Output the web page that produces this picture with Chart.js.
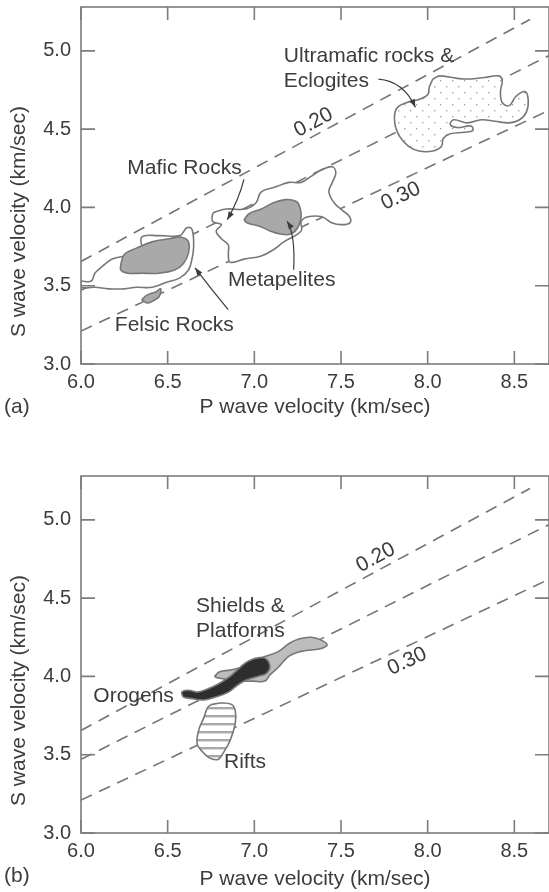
<!DOCTYPE html>
<html>
<head>
<meta charset="utf-8">
<script src="https://cdn.jsdelivr.net/npm/chart.js@4.4.1/dist/chart.umd.min.js"></script>
<style>
  html, body { margin: 0; padding: 0; background: #fff; }
  .panel { position: relative; width: 549px; }
  #panel-a { height: 440px; }
  #panel-b { height: 452px; }
</style>
</head>
<body>
<div class="panel" id="panel-a"><canvas id="chart-a"></canvas></div>
<div class="panel" id="panel-b"><canvas id="chart-b"></canvas></div>
<script>
/* ---------- axes ---------- */
const xTicks = [6.0, 6.5, 7.0, 7.5, 8.0, 8.5];
const yTicks = [3.0, 3.5, 4.0, 4.5, 5.0];
const xRange = [6.0, 8.7];
const yRange = [3.0, 5.28];

/* ---------- Poisson's ratio lines, [Vp, Vs] end points ---------- */
const line020 = [[6.0, 3.655], [8.59, 5.20]];
const line025 = [[6.0, 3.47], [8.7, 4.97]];
const line030 = [[6.0, 3.21], [8.68, 4.61]];

/* ---------- (a) rock fields, [Vp, Vs] outlines ---------- */
const felsicOuter = [[6.00,3.53],[6.06,3.53],[6.08,3.58],[6.12,3.62],[6.18,3.67],[6.26,3.69],[6.35,3.71],
  [6.35,3.81],[6.45,3.82],[6.57,3.82],[6.61,3.87],[6.64,3.86],[6.65,3.75],[6.64,3.67],[6.62,3.60],
  [6.57,3.55],[6.49,3.52],[6.41,3.49],[6.32,3.49],[6.25,3.48],[6.16,3.48],[6.08,3.49],[6.00,3.49]];
const felsicCore = [[6.23,3.64],[6.25,3.70],[6.32,3.74],[6.41,3.78],[6.51,3.80],[6.58,3.81],[6.62,3.78],
  [6.62,3.71],[6.59,3.64],[6.54,3.60],[6.45,3.58],[6.35,3.58],[6.27,3.58],[6.23,3.60]];
const felsicBlob = [[6.35,3.41],[6.38,3.44],[6.43,3.46],[6.46,3.48],[6.45,3.43],[6.41,3.40],[6.38,3.39]];
const maficRocks = [[6.77,3.97],[6.84,3.99],[6.95,3.99],[7.01,4.03],[7.04,4.10],[7.12,4.13],[7.20,4.16],
  [7.27,4.16],[7.33,4.20],[7.39,4.24],[7.45,4.26],[7.47,4.22],[7.45,4.16],[7.43,4.10],[7.46,4.03],
  [7.51,3.98],[7.55,3.94],[7.55,3.90],[7.50,3.89],[7.45,3.90],[7.39,3.94],[7.31,3.94],[7.27,3.91],
  [7.27,3.85],[7.17,3.78],[7.11,3.73],[7.04,3.69],[6.94,3.67],[6.86,3.65],[6.85,3.70],[6.85,3.76],
  [6.81,3.80],[6.78,3.85],[6.81,3.89],[6.76,3.91],[6.76,3.96]];
const metapelites = [[6.94,3.92],[6.97,3.96],[7.04,3.99],[7.11,4.03],[7.18,4.05],[7.24,4.04],[7.26,4.01],
  [7.27,3.94],[7.25,3.87],[7.21,3.83],[7.15,3.83],[7.09,3.85],[7.03,3.88],[6.96,3.90]];
const ultramafic = [[8.03,4.82],[8.07,4.84],[8.21,4.82],[8.33,4.83],[8.41,4.84],[8.43,4.81],[8.42,4.74],
  [8.43,4.67],[8.47,4.65],[8.51,4.71],[8.56,4.74],[8.58,4.69],[8.57,4.61],[8.53,4.56],[8.47,4.54],
  [8.39,4.55],[8.31,4.56],[8.23,4.54],[8.15,4.56],[8.13,4.53],[8.17,4.51],[8.25,4.52],[8.26,4.49],
  [8.21,4.48],[8.13,4.47],[8.09,4.44],[8.08,4.39],[8.03,4.36],[7.95,4.36],[7.89,4.39],[7.84,4.45],
  [7.81,4.54],[7.82,4.63],[7.88,4.67],[7.95,4.69],[8.00,4.72],[8.01,4.77]];

/* ---------- (b) crustal provinces ---------- */
const shields = [[6.77,4.00],[6.80,4.03],[6.86,4.04],[6.93,4.06],[6.99,4.10],[7.07,4.13],[7.14,4.16],
  [7.20,4.21],[7.26,4.24],[7.33,4.25],[7.39,4.23],[7.42,4.20],[7.39,4.18],[7.34,4.17],[7.27,4.16],
  [7.20,4.13],[7.14,4.06],[7.09,4.01],[7.06,3.97],[6.99,3.97],[6.92,3.97],[6.85,3.98],[6.79,3.99]];
const orogens = [[6.58,3.90],[6.60,3.91],[6.63,3.91],[6.67,3.90],[6.73,3.92],[6.79,3.95],[6.86,4.00],
  [6.92,4.06],[6.97,4.10],[7.03,4.12],[7.07,4.11],[7.09,4.06],[7.07,4.02],[7.02,4.00],[6.96,3.98],
  [6.91,3.95],[6.85,3.90],[6.78,3.87],[6.71,3.85],[6.63,3.86],[6.59,3.87]];
const rifts = [[6.75,3.82],[6.81,3.83],[6.87,3.82],[6.89,3.78],[6.89,3.70],[6.86,3.59],[6.82,3.51],
  [6.79,3.47],[6.74,3.48],[6.70,3.52],[6.67,3.57],[6.68,3.66],[6.71,3.74],[6.73,3.80]];

/* ---------- styles ---------- */
const ink = '#3c3c3c';
const axisGray = '#7c7c7c';
const edgeGray = '#777';
const FONT = '"Liberation Sans", Arial, Helvetica, sans-serif';

function tile(w, h, paint) {
  const c = document.createElement('canvas');
  c.width = w; c.height = h;
  const g = c.getContext('2d');
  g.fillStyle = '#fff';
  g.fillRect(0, 0, w, h);
  paint(g);
  return g.createPattern(c, 'repeat');
}
const stipple = tile(12, 12, g => {
  g.fillStyle = '#a6a6a6';
  g.fillRect(2, 2, 1.4, 1.4);
  g.fillRect(8, 8, 1.4, 1.4);
});
const hatch = tile(8, 8, g => {
  g.fillStyle = '#a8a8a8';
  g.fillRect(0, 3, 8, 2.4);
});

const toPts = arr => arr.map(([x, y]) => ({x, y}));
const closed = arr => toPts(arr.concat([arr[0]]));

function field(data, fillColor, order) {
  return {
    data: closed(data), showLine: true, tension: 0.4, pointRadius: 0,
    borderColor: edgeGray, borderWidth: 1.6, backgroundColor: fillColor, fill: 'shape', order
  };
}
function ratioLine(data) {
  return {
    data: toPts(data), showLine: true, pointRadius: 0, fill: false,
    borderColor: '#757575', borderWidth: 1.6, borderDash: [12, 8], order: 20
  };
}

/* ---------- annotations ---------- */
const notesA = {
  texts: [
    {t: 'Ultramafic rocks &', at: [7.17, 4.966]},
    {t: 'Eclogites', at: [7.17, 4.806]},
    {t: 'Mafic Rocks', at: [6.267, 4.25]},
    {t: 'Metapelites', at: [6.848, 3.533]},
    {t: 'Felsic Rocks', at: [6.195, 3.25]}
  ],
  arrows: [
    [[7.716, 4.819], [7.86, 4.806], [7.929, 4.64]],
    [[6.94, 4.179], [6.911, 4.051], [6.844, 3.922]],
    [[7.227, 3.602], [7.237, 3.828], [7.189, 3.912]],
    [[6.849, 3.348], [6.75, 3.48], [6.658, 3.614]]
  ],
  ratios: [
    {t: '0.20', at: [7.342, 4.542], line: line020},
    {t: '0.30', at: [7.845, 4.072], line: line030}
  ],
  tag: '(a)'
};
const notesB = {
  texts: [
    {t: 'Shields &', at: [6.664, 4.449]},
    {t: 'Platforms', at: [6.664, 4.288]},
    {t: 'Orogens', at: [6.071, 3.872]},
    {t: 'Rifts', at: [6.825, 3.455]}
  ],
  arrows: [],
  ratios: [
    {t: '0.20', at: [7.701, 4.759], line: line020},
    {t: '0.30', at: [7.882, 4.096], line: line030}
  ],
  tag: '(b)'
};

function notesPlugin(notes) {
  return {
    id: 'notes',
    afterDatasetsDraw(chart) {
      const {ctx, chartArea: a, scales: {x, y}} = chart;
      const px = p => [x.getPixelForValue(p[0]), y.getPixelForValue(p[1])];
      ctx.save();

      // frame with inward ticks on all four sides
      ctx.strokeStyle = axisGray;
      ctx.lineWidth = 1.6;
      ctx.strokeRect(a.left, a.top, a.right - a.left, a.bottom - a.top);
      ctx.beginPath();
      xTicks.forEach(v => {
        const tx = x.getPixelForValue(v);
        ctx.moveTo(tx, a.bottom); ctx.lineTo(tx, a.bottom - 13);
        ctx.moveTo(tx, a.top); ctx.lineTo(tx, a.top + 13);
      });
      yTicks.forEach(v => {
        const ty = y.getPixelForValue(v);
        ctx.moveTo(a.left, ty); ctx.lineTo(a.left + 14, ty);
        ctx.moveTo(a.right, ty); ctx.lineTo(a.right - 14, ty);
      });
      ctx.stroke();

      // field labels
      ctx.fillStyle = ink;
      ctx.font = '21px ' + FONT;
      ctx.textBaseline = 'middle';
      ctx.textAlign = 'left';
      notes.texts.forEach(n => {
        const [tx, ty] = px(n.at);
        ctx.fillText(n.t, tx, ty);
      });

      // leader arrows
      ctx.strokeStyle = ink;
      ctx.lineWidth = 1.2;
      notes.arrows.forEach(([s, c, e]) => {
        const [sx, sy] = px(s), [cx, cy] = px(c), [ex, ey] = px(e);
        ctx.beginPath();
        ctx.moveTo(sx, sy);
        ctx.quadraticCurveTo(cx, cy, ex, ey);
        ctx.stroke();
        const ang = Math.atan2(ey - cy, ex - cx);
        ctx.beginPath();
        ctx.moveTo(ex, ey);
        ctx.lineTo(ex - 8 * Math.cos(ang) + 3 * Math.sin(ang), ey - 8 * Math.sin(ang) - 3 * Math.cos(ang));
        ctx.lineTo(ex - 8 * Math.cos(ang) - 3 * Math.sin(ang), ey - 8 * Math.sin(ang) + 3 * Math.cos(ang));
        ctx.closePath();
        ctx.fill();
      });

      // Poisson's ratio labels, rotated along their line
      ctx.textAlign = 'center';
      notes.ratios.forEach(r => {
        const [ax, ay] = px(r.line[0]), [bx, by] = px(r.line[1]);
        const [tx, ty] = px(r.at);
        ctx.save();
        ctx.translate(tx, ty);
        ctx.rotate(Math.atan2(by - ay, bx - ax));
        ctx.fillText(r.t, 0, 0);
        ctx.restore();
      });
      ctx.restore();
    },
    afterDraw(chart) {
      const {ctx, chartArea: a, scales: {y}} = chart;
      ctx.save();
      ctx.fillStyle = ink;
      ctx.font = '21px ' + FONT;
      ctx.textBaseline = 'middle';
      // y axis title
      ctx.save();
      ctx.translate(19, y.getPixelForValue(3.91));
      ctx.rotate(-Math.PI / 2);
      ctx.textAlign = 'center';
      ctx.fillText('S wave velocity (km/sec)', 0, 0);
      ctx.restore();
      // panel tag
      ctx.textAlign = 'left';
      ctx.fillText(notes.tag, 4, a.bottom + 43);
      ctx.restore();
    }
  };
}

function makeChart(id, datasets, notes, top, xHeight, titlePad) {
  return new Chart(document.getElementById(id), {
    type: 'scatter',
    data: {datasets},
    options: {
      responsive: true,
      maintainAspectRatio: false,
      animation: false,
      events: [],
      layout: {padding: {top, left: 0, right: 0, bottom: 0}},
      plugins: {legend: {display: false}, tooltip: {enabled: false}},
      scales: {
        x: {
          type: 'linear', min: xRange[0], max: xRange[1],
          grid: {display: false, drawTicks: false},
          border: {display: false},
          ticks: {
            stepSize: 0.5, includeBounds: false, padding: 6,
            color: ink, font: {family: FONT, size: 20},
            callback: v => v.toFixed(1)
          },
          title: {
            display: true, text: 'P wave velocity (km/sec)',
            color: ink, font: {family: FONT, size: 21},
            padding: {top: 0, bottom: titlePad}
          },
          afterFit: s => {
            s.height = xHeight;
            s.paddingLeft = s.paddingRight = s.paddingTop = s.paddingBottom = 0;
          }
        },
        y: {
          type: 'linear', min: yRange[0], max: yRange[1],
          grid: {display: false, drawTicks: false},
          border: {display: false},
          ticks: {
            stepSize: 0.5, includeBounds: false, padding: 10,
            color: ink, font: {family: FONT, size: 20},
            callback: v => v.toFixed(1)
          },
          afterFit: s => {
            s.width = 81;
            s.paddingLeft = s.paddingRight = s.paddingTop = s.paddingBottom = 0;
          }
        }
      }
    },
    plugins: [notesPlugin(notes)]
  });
}

makeChart('chart-a', [
  field(metapelites, '#a9a9a9', 1),
  field(felsicCore, '#a9a9a9', 1),
  field(felsicBlob, '#a9a9a9', 1),
  field(maficRocks, '#ffffff', 5),
  field(felsicOuter, '#ffffff', 5),
  field(ultramafic, stipple, 5),
  ratioLine(line020),
  ratioLine(line025),
  ratioLine(line030)
], notesA, 7, 440 - 364, 20);

makeChart('chart-b', [
  field(orogens, '#2e2e2e', 1),
  field(shields, '#bdbdbd', 5),
  field(rifts, hatch, 5),
  ratioLine(line020),
  ratioLine(line025),
  ratioLine(line030)
], notesB, 36, 452 - 393, 0);
</script>
</body>
</html>
